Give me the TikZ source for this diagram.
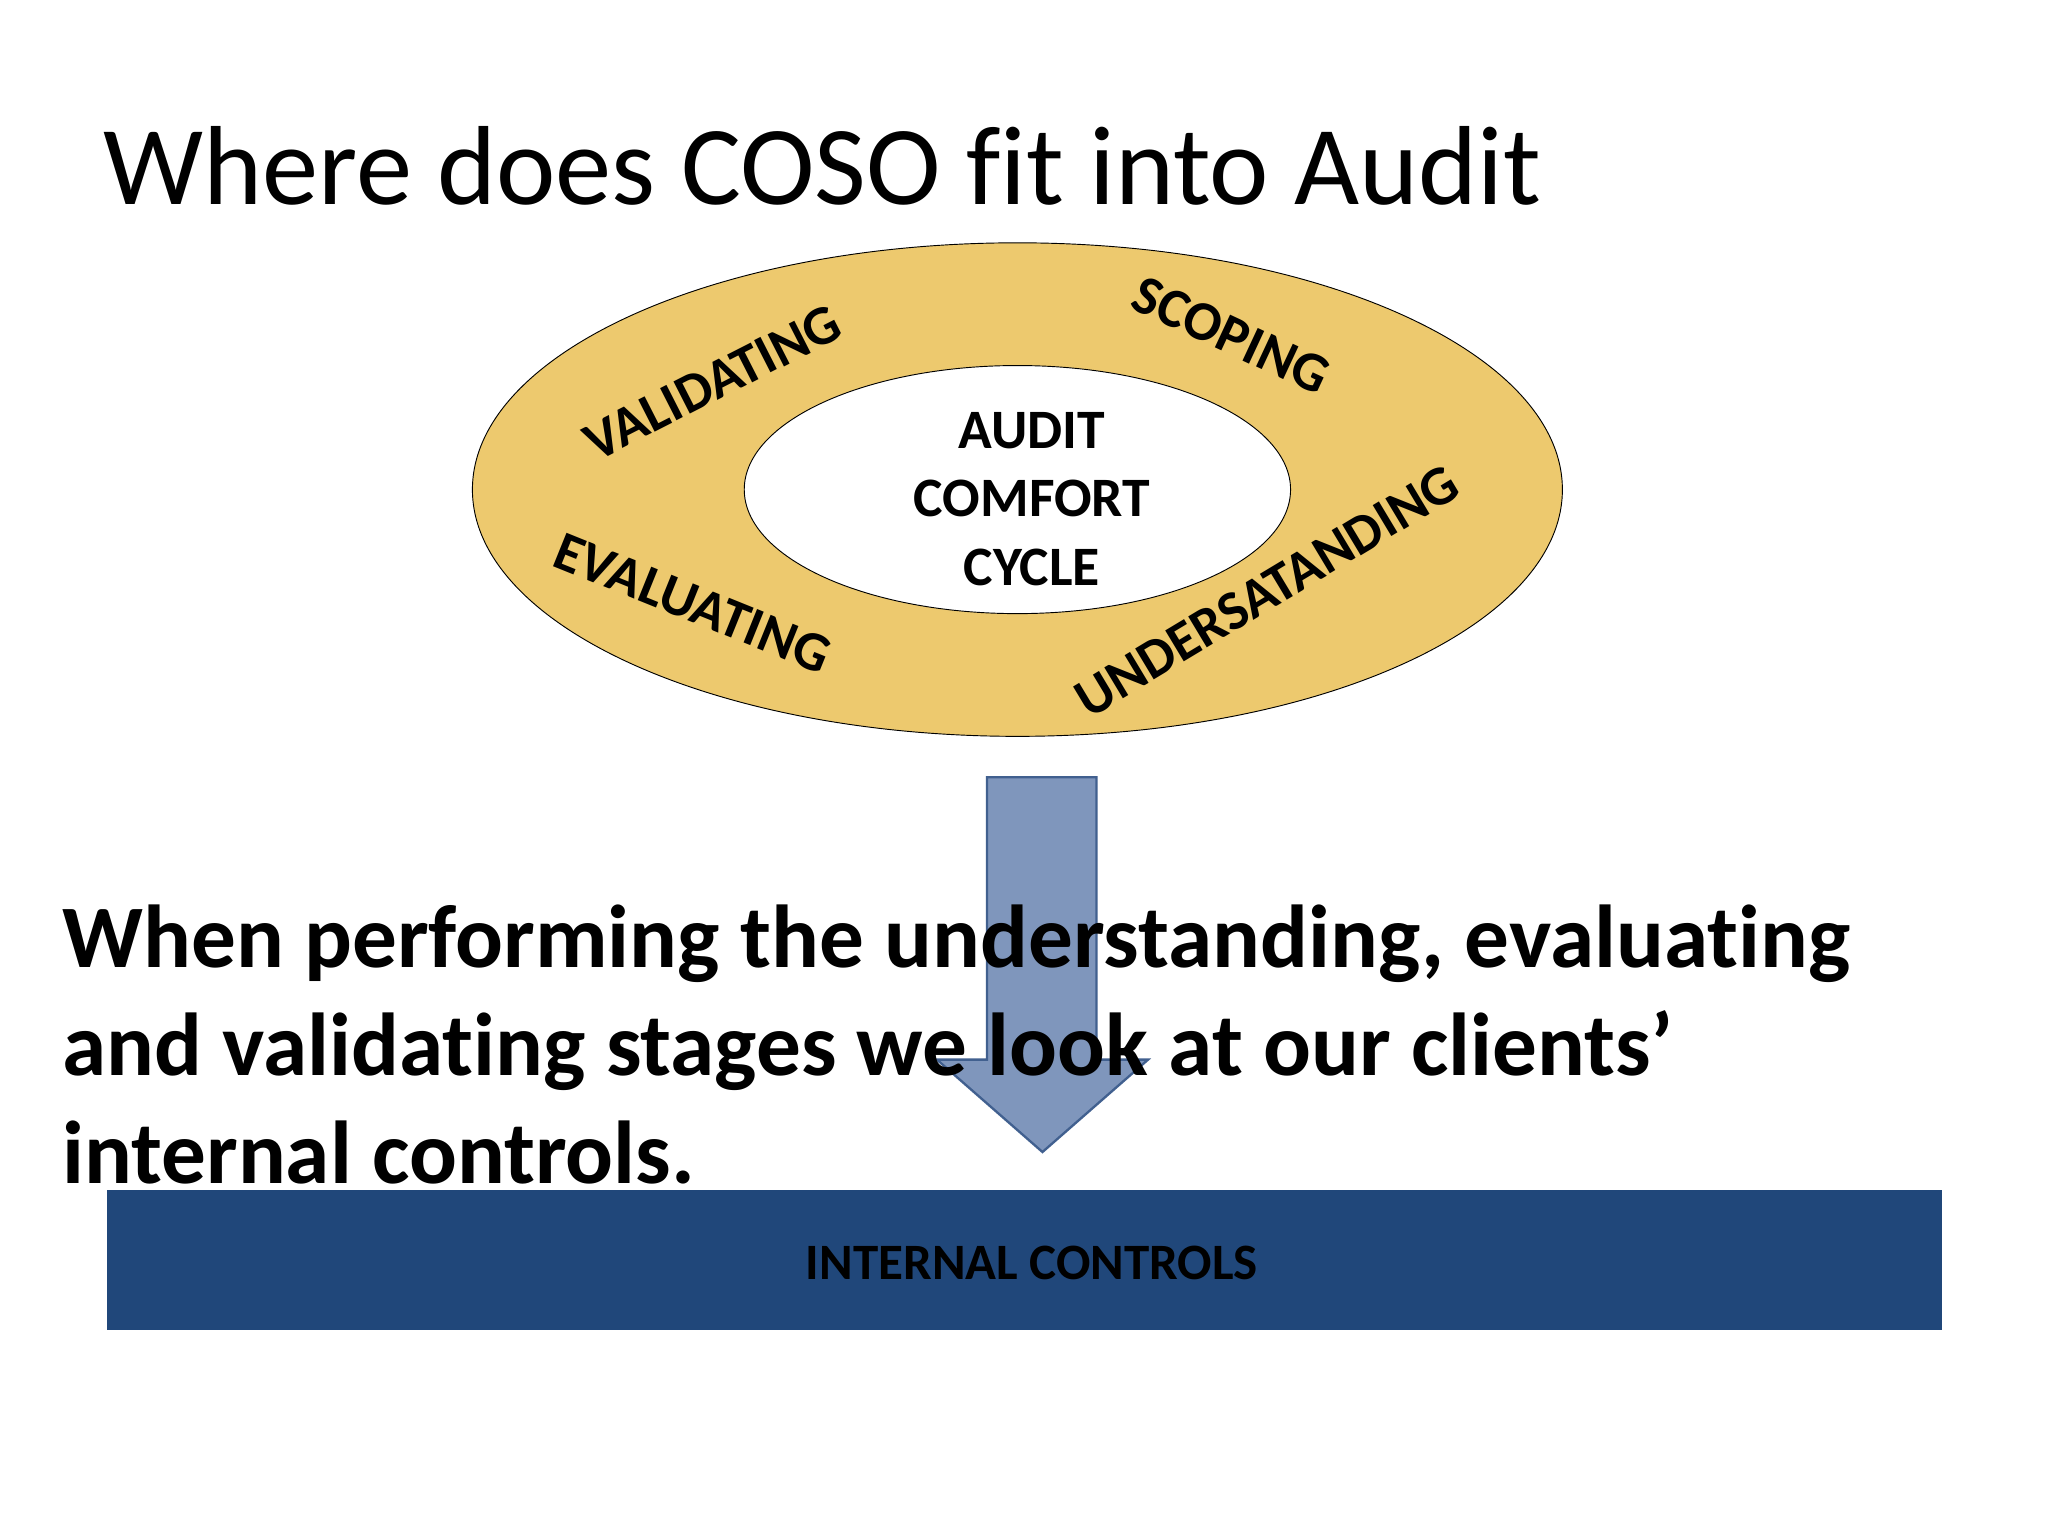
\documentclass[tikz,border=0pt]{standalone}
\usepackage{fontspec}
\setmainfont{Carlito}[Ligatures=NoCommon]
\definecolor{gold}{HTML}{EDC96E}
\definecolor{arrowfill}{HTML}{7F96BC}
\definecolor{arrowline}{HTML}{41608F}
\definecolor{barblue}{HTML}{20477A}
\begin{document}
\begin{tikzpicture}[x=0.02cm,y=-0.02cm,
  ring/.style={font=\bfseries\fontsize{24}{28}\selectfont,inner sep=0pt},
  body/.style={font=\bfseries\fontsize{38.5}{46.5}\selectfont,anchor=base west,inner sep=0pt}]
\useasboundingbox (0,0) rectangle (1552,1164);
\node[anchor=base west,inner sep=0pt,font=\fontsize{48.5}{55}\selectfont] (title) at (78,155) {Where does COSO fit into Audit};
\draw[fill=gold] (771,371) ellipse [x radius=413, y radius=187];
\draw[fill=white] (771,371) ellipse [x radius=207, y radius=94];
\node[font=\bfseries\fontsize{24}{28}\selectfont] (c1) at (782,326) {AUDIT};
\node[font=\bfseries\fontsize{24}{28}\selectfont] (c2) at (782,378) {COMFORT};
\node[font=\bfseries\fontsize{24}{28}\selectfont] (c3) at (782,430) {CYCLE};
\node[ring,rotate=27] (val) at (540,290) {VALIDATING};
\node[ring,rotate=-25] (scop) at (933,254) {SCOPING};
\node[ring,rotate=-22] (eval) at (525,457) {EVALUATING};
\node[ring,rotate=31] (und) at (960,448) {UNDERSATANDING};
\draw[arrowline,fill=arrowfill,line width=1pt] (748,589) -- (831,589) -- (831,803) -- (870,803) -- (790,873) -- (710,803) -- (748,803) -- cycle;
\fill[barblue] (81,902) rectangle (1472,1008);
\node[font=\bfseries\fontsize{22}{26}\selectfont] (ic) at (782,957) {INTERNAL CONTROLS};
\node[body] (l1) at (47,733) {When performing the understanding, evaluating};
\node[body] (l2) at (47,815) {and validating stages we look at our clients’};
\node[body] (l3) at (47,897) {internal controls.};
\end{tikzpicture}
\end{document}
